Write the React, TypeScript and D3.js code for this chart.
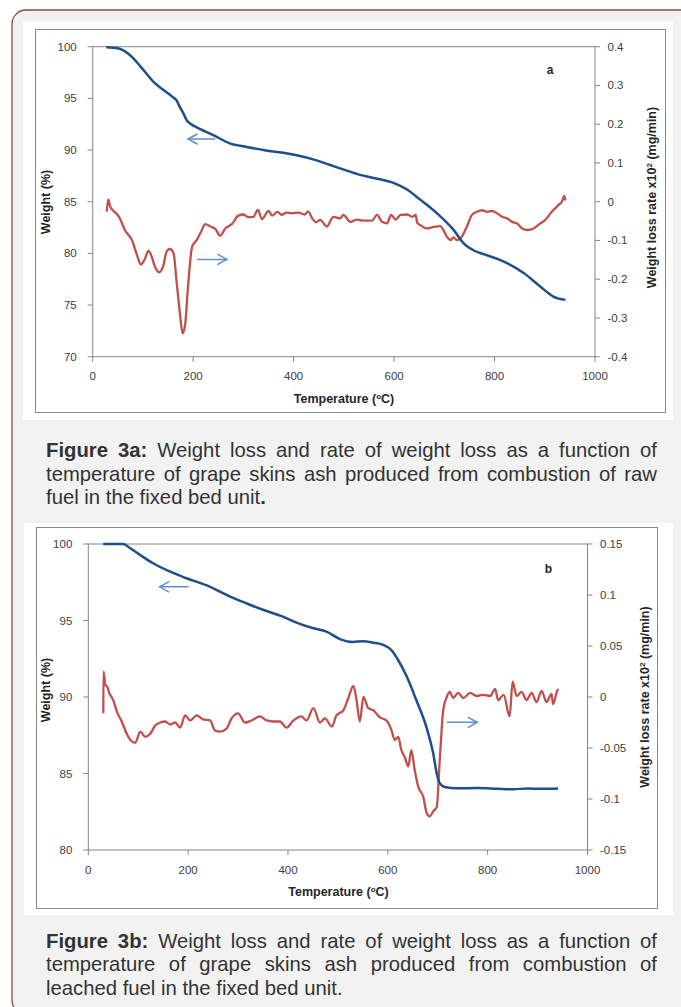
import React, { useLayoutEffect, useRef } from 'react';
import * as d3 from 'd3';

type Pt = [number, number];

// ---------- DATA ----------
const xTicks = [0, 200, 400, 600, 800, 1000];

const weightTicksA = [70, 75, 80, 85, 90, 95, 100];
const rateTicksA = [-0.4, -0.3, -0.2, -0.1, 0, 0.1, 0.2, 0.3, 0.4];
const rateTickLabelsA = ['-0.4', '-0.3', '-0.2', '-0.1', '0', '0.1', '0.2', '0.3', '0.4'];

const weightTicksB = [80, 85, 90, 95, 100];
const rateTicksB = [-0.15, -0.1, -0.05, 0, 0.05, 0.1, 0.15];
const rateTickLabelsB = ['-0.15', '-0.1', '-0.05', '0', '0.05', '0.1', '0.15'];

// Figure 3a: weight (%) vs temperature (°C)
const weightA: Pt[] = [
  [27, 99.95], [50, 99.85], [74, 99.2], [95, 98.1], [121, 96.6], [141, 95.8], [160, 95.1],
  [167, 94.8], [172, 94.3], [180, 93.6], [187, 92.9], [196, 92.5], [207, 92.2], [240, 91.45],
  [273, 90.65], [307, 90.3], [340, 90.0], [406, 89.5], [439, 89.1], [473, 88.55], [500, 88.1],
  [532, 87.6], [559, 87.3], [600, 86.8], [625, 86.2], [652, 85.2], [685, 83.9], [718, 82.3],
  [738, 81.0], [758, 80.3], [780, 79.9], [812, 79.35], [858, 78.1], [891, 76.8], [918, 75.8],
  [941, 75.5],
];

// Figure 3a: weight loss rate x10^2 (mg/min) vs temperature (°C)
const rateA: Pt[] = [
  [28, -0.026], [31, 0.006], [35, -0.013], [40, -0.022], [48, -0.032], [54, -0.043], [64, -0.073],
  [78, -0.099], [88, -0.137], [96, -0.162], [103, -0.15], [111, -0.127], [117, -0.14],
  [124, -0.168], [132, -0.182], [141, -0.163], [147, -0.129], [154, -0.122], [161, -0.133],
  [167, -0.206], [174, -0.292], [179, -0.34], [184, -0.318], [190, -0.215], [198, -0.116],
  [207, -0.099], [216, -0.077], [224, -0.058], [234, -0.064], [244, -0.07], [254, -0.088],
  [264, -0.069], [277, -0.058], [290, -0.036], [300, -0.033], [310, -0.04], [320, -0.039],
  [329, -0.021], [337, -0.045], [350, -0.024], [357, -0.036], [368, -0.026], [376, -0.034],
  [386, -0.028], [396, -0.03], [409, -0.028], [422, -0.033], [429, -0.025], [437, -0.043],
  [444, -0.053], [453, -0.047], [466, -0.064], [479, -0.039], [493, -0.043], [499, -0.034],
  [513, -0.052], [526, -0.046], [539, -0.049], [556, -0.049], [566, -0.034], [576, -0.052],
  [586, -0.056], [594, -0.034], [603, -0.046], [613, -0.034], [626, -0.033], [636, -0.039],
  [643, -0.034], [646, -0.054], [652, -0.06], [665, -0.069], [679, -0.065], [692, -0.063],
  [698, -0.073], [705, -0.09], [713, -0.099], [718, -0.092], [725, -0.099], [735, -0.09],
  [745, -0.064], [755, -0.034], [765, -0.026], [775, -0.022], [785, -0.026], [795, -0.024],
  [805, -0.03], [815, -0.039], [825, -0.043], [835, -0.052], [845, -0.056], [855, -0.069],
  [865, -0.073], [878, -0.069], [891, -0.056], [901, -0.047], [914, -0.026], [927, -0.009],
  [934, 0.0], [939, 0.015], [941, 0.003],
];

// Figure 3b: weight (%) vs temperature (°C)
const weightB: Pt[] = [
  [30, 100], [70, 100], [84, 99.72], [104, 99.28], [130, 98.74], [164, 98.19], [197, 97.76],
  [244, 97.2], [284, 96.56], [317, 96.12], [350, 95.7], [390, 95.25], [417, 94.86], [451, 94.49],
  [477, 94.27], [505, 93.77], [530, 93.6], [550, 93.65], [571, 93.55], [591, 93.4], [607, 93.07],
  [620, 92.45], [637, 91.4], [657, 89.8], [677, 88.06], [691, 86.3], [698, 85.0], [704, 84.36],
  [714, 84.12], [738, 84.03], [780, 84.05], [820, 84.0], [850, 83.97], [880, 84.02], [910, 84.0],
  [941, 84.02],
];

// Figure 3b: weight loss rate x10^2 (mg/min) vs temperature (°C)
const rateB: Pt[] = [
  [30, -0.016], [30.5, 0.025], [34, 0.012], [38, 0.01], [42, 0.004], [50, -0.003], [57, -0.014],
  [67, -0.024], [77, -0.036], [84, -0.042], [94, -0.045], [104, -0.034], [114, -0.039],
  [124, -0.036], [134, -0.028], [144, -0.025], [154, -0.024], [164, -0.027], [174, -0.025],
  [184, -0.03], [194, -0.018], [204, -0.023], [217, -0.018], [230, -0.022], [244, -0.023],
  [254, -0.033], [264, -0.034], [277, -0.031], [287, -0.021], [300, -0.016], [314, -0.025],
  [327, -0.023], [344, -0.019], [357, -0.023], [371, -0.024], [384, -0.024], [397, -0.03],
  [411, -0.023], [427, -0.019], [437, -0.023], [451, -0.011], [464, -0.025], [474, -0.021],
  [488, -0.029], [497, -0.018], [511, -0.013], [521, -0.001], [531, 0.011], [537, -0.002],
  [544, -0.024], [551, 0.0], [561, -0.011], [571, -0.013], [584, -0.02], [597, -0.023],
  [607, -0.032], [614, -0.042], [621, -0.039], [627, -0.052], [634, -0.059], [641, -0.068],
  [647, -0.052], [654, -0.072], [661, -0.088], [671, -0.098], [678, -0.114], [684, -0.117],
  [691, -0.112], [698, -0.108], [704, -0.062], [711, -0.013], [718, 0.0], [724, 0.005],
  [731, -0.001], [741, 0.004], [751, -0.001], [765, 0.004], [778, 0.001], [791, 0.002],
  [805, 0.001], [815, 0.008], [821, -0.003], [832, 0.002], [844, -0.019], [850, 0.015],
  [858, 0.001], [868, 0.005], [878, -0.003], [888, 0.004], [898, -0.005], [908, 0.006],
  [918, -0.005], [928, 0.003], [931, -0.007], [938, 0.004], [941, 0.008],
];

// annotation arrows: [tStart, tEnd, value]
const arrowWeightA = [190, 243, 91.07];
const arrowRateA = [209, 267, -0.149];
const arrowWeightB = [143, 200, 97.2];
const arrowRateB = [719, 779, -0.0248];

const captionA = [
  { bold: 'Figure 3a:', text: ' Weight loss and rate of weight loss as a function of', justify: true },
  { bold: '', text: 'temperature of grape skins ash produced from combustion of raw', justify: true },
  { bold: '', text: 'fuel in the fixed bed unit', tail: '.', justify: false },
];
const captionB = [
  { bold: 'Figure 3b:', text: ' Weight loss and rate of weight loss as a function of', justify: true },
  { bold: '', text: 'temperature of grape skins ash produced from combustion of', justify: true },
  { bold: '', text: 'leached fuel in the fixed bed unit.', justify: false },
];

// ---------- STYLE ----------
const FONT = "'Liberation Sans', Arial, sans-serif";
const BLUE = '#1f4e8c';
const RED = '#c0504d';
const ARROW = '#5b8fd0';
const AXIS = '#868686';
const TICKTXT = '#404040';

interface Spec {
  panel: { x: number; y: number; w: number; h: number };
  frame: { x: number; y: number; w: number; h: number };
  plot: { l: number; r: number; t: number; b: number };
  wDomain: [number, number];
  rDomain: [number, number];
  wTicks: number[];
  rTicks: number[];
  rLabels: string[];
  weight: Pt[];
  rate: Pt[];
  arrowW: number[];
  arrowR: number[];
  letter: string;
  letterPos: [number, number];
  xTitleY: number;
  xTitleX: number;
  yTitleL: [number, number];
  yTitleR: [number, number];
}

function Arrow({ x0, x1, y, dir }: { x0: number; x1: number; y: number; dir: 'left' | 'right' }) {
  const tip = dir === 'left' ? Math.min(x0, x1) : Math.max(x0, x1);
  const back = dir === 'left' ? tip + 9 : tip - 9;
  return (
    <g stroke={ARROW} strokeWidth={1.5} fill="none" strokeLinecap="round">
      <line x1={x0} x2={x1} y1={y} y2={y} />
      <polyline points={`${back},${y - 5} ${tip},${y} ${back},${y + 5}`} />
    </g>
  );
}

function Chart({ s }: { s: Spec }) {
  const x = d3.scaleLinear().domain([0, 1000]).range([s.plot.l, s.plot.r]);
  const yW = d3.scaleLinear().domain(s.wDomain).range([s.plot.b, s.plot.t]);
  const yR = d3.scaleLinear().domain(s.rDomain).range([s.plot.b, s.plot.t]);
  const lineW = d3.line<Pt>().x((d) => x(d[0])).y((d) => yW(d[1])).curve(d3.curveMonotoneX);
  const lineR = d3.line<Pt>().x((d) => x(d[0])).y((d) => yR(d[1])).curve(d3.curveMonotoneX);
  const { l, r, t, b } = s.plot;
  return (
    <g>
      <rect x={s.panel.x} y={s.panel.y} width={s.panel.w} height={s.panel.h} fill="#ffffff" />
      <rect x={s.frame.x + 0.5} y={s.frame.y + 0.5} width={s.frame.w} height={s.frame.h} fill="none" stroke="#8a8a8a" strokeWidth={1} />
      <rect x={l} y={t} width={r - l} height={b - t} fill="none" stroke={AXIS} strokeWidth={1} />
      {s.wTicks.map((v) => (
        <g key={'w' + v}>
          <line x1={l - 5} x2={l} y1={yW(v)} y2={yW(v)} stroke={AXIS} />
          <text x={l - 16} y={yW(v) + 4} textAnchor="end" fontSize={11.5} fill={TICKTXT} fontFamily={FONT}>{v}</text>
        </g>
      ))}
      {s.rTicks.map((v, i) => (
        <g key={'r' + v}>
          <line x1={r} x2={r + 5} y1={yR(v)} y2={yR(v)} stroke={AXIS} />
          <text x={r + 12.5} y={yR(v) + 4} textAnchor="start" fontSize={11.5} fill={TICKTXT} fontFamily={FONT}>{s.rLabels[i]}</text>
        </g>
      ))}
      {xTicks.map((v) => (
        <g key={'x' + v}>
          <line x1={x(v)} x2={x(v)} y1={b} y2={b + 5} stroke={AXIS} />
          <text x={x(v)} y={b + 23.5} textAnchor="middle" fontSize={11.5} fill={TICKTXT} fontFamily={FONT}>{v}</text>
        </g>
      ))}
      <text x={s.xTitleX} y={s.xTitleY} textAnchor="middle" fontSize={12.5} fontWeight="bold" fill="#262626" fontFamily={FONT}>
        Temperature (<tspan fontSize={8} dy={-4}>o</tspan><tspan dy={4}>C)</tspan>
      </text>
      <text transform={`translate(${s.yTitleL[0]},${s.yTitleL[1]}) rotate(-90)`} textAnchor="middle" fontSize={12.5} fontWeight="bold" fill="#262626" fontFamily={FONT}>
        Weight (%)
      </text>
      <text transform={`translate(${s.yTitleR[0]},${s.yTitleR[1]}) rotate(-90)`} textAnchor="middle" fontSize={12.5} fontWeight="bold" fill="#262626" fontFamily={FONT}>
        Weight loss rate x10<tspan fontSize={8} dy={-4}>2</tspan><tspan dy={4}> (mg/min)</tspan>
      </text>
      <text x={s.letterPos[0]} y={s.letterPos[1]} textAnchor="middle" fontSize={12} fontWeight="bold" fill="#262626" fontFamily={FONT}>{s.letter}</text>
      <path d={lineR(s.rate) || ''} fill="none" stroke={RED} strokeWidth={2.3} strokeLinejoin="round" />
      <path d={lineW(s.weight) || ''} fill="none" stroke={BLUE} strokeWidth={2.5} strokeLinejoin="round" />
      <Arrow x0={x(s.arrowW[0])} x1={x(s.arrowW[1])} y={yW(s.arrowW[2])} dir="left" />
      <Arrow x0={x(s.arrowR[0])} x1={x(s.arrowR[1])} y={yR(s.arrowR[2])} dir="right" />
    </g>
  );
}

function CaptionLine({ x, y, width, bold, text, tail, justify }: any) {
  const ref = useRef<SVGTextElement>(null);
  useLayoutEffect(() => {
    const el = ref.current;
    if (!el || !justify) return;
    el.style.wordSpacing = '0px';
    const natural = el.getComputedTextLength();
    const spaces = (bold + text).split(' ').length - 1;
    if (spaces > 0) el.style.wordSpacing = `${(width - natural) / spaces}px`;
  }, [bold, text, width, justify]);
  return (
    <text ref={ref} x={x} y={y} fontSize={20.3} fill="#333333" fontFamily={FONT} style={{ whiteSpace: 'pre' }}>
      {bold ? <tspan fontWeight="bold">{bold}</tspan> : null}
      {text}
      {tail ? <tspan fontWeight="bold">{tail}</tspan> : null}
    </text>
  );
}

const specA: Spec = {
  panel: { x: 23, y: 22, w: 650, h: 398 },
  frame: { x: 35, y: 29, w: 630, h: 383 },
  plot: { l: 92.7, r: 595, t: 46.7, b: 356.7 },
  wDomain: [70, 100],
  rDomain: [-0.4, 0.4],
  wTicks: weightTicksA,
  rTicks: rateTicksA,
  rLabels: rateTickLabelsA,
  weight: weightA,
  rate: rateA,
  arrowW: arrowWeightA,
  arrowR: arrowRateA,
  letter: 'a',
  letterPos: [550, 73.5],
  xTitleX: 344,
  xTitleY: 402.5,
  yTitleL: [50, 202],
  yTitleR: [655.5, 197.5],
};

const specB: Spec = {
  panel: { x: 24, y: 523, w: 649, h: 392 },
  frame: { x: 36, y: 527, w: 621, h: 381 },
  plot: { l: 88.3, r: 587.5, t: 544, b: 850 },
  wDomain: [80, 100],
  rDomain: [-0.15, 0.15],
  wTicks: weightTicksB,
  rTicks: rateTicksB,
  rLabels: rateTickLabelsB,
  weight: weightB,
  rate: rateB,
  arrowW: arrowWeightB,
  arrowR: arrowRateB,
  letter: 'b',
  letterPos: [548.5, 572.5],
  xTitleX: 338.5,
  xTitleY: 896,
  yTitleL: [50, 690],
  yTitleR: [648.5, 697],
};

export default function App() {
  const capA = [457, 480.5, 504];
  const capB = [947.5, 971, 994.5];
  return (
    <svg width={681} height={1007} style={{ position: 'absolute', left: 0, top: 0, background: '#ffffff' }}>
      <rect x={12} y={10} width={720} height={1004} rx={14} ry={14} fill="#f2f2f2" stroke="#8b4a3c" strokeWidth={1.3} />
      <Chart s={specA} />
      {captionA.map((c, i) => (
        <CaptionLine key={'a' + i} x={46} y={capA[i]} width={611} {...c} />
      ))}
      <Chart s={specB} />
      {captionB.map((c, i) => (
        <CaptionLine key={'b' + i} x={46} y={capB[i]} width={611} {...c} />
      ))}
    </svg>
  );
}
